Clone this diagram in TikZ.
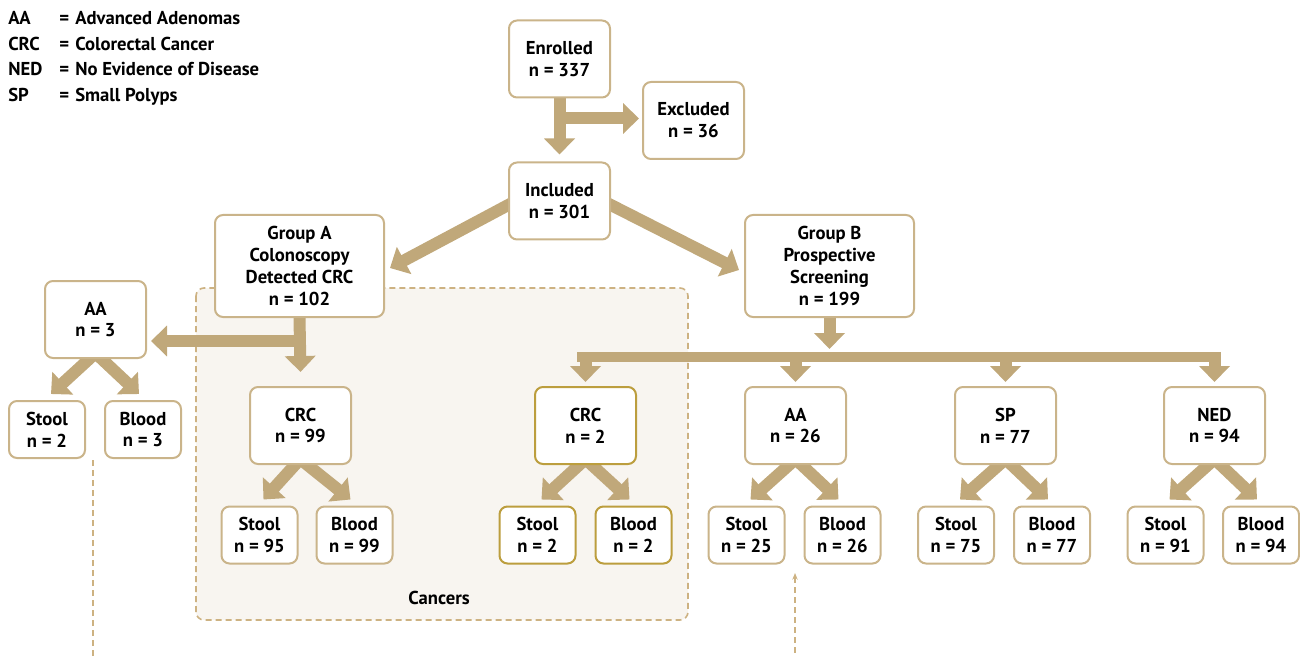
\documentclass[tikz,border=0pt]{standalone}
\usepackage{fontspec}
\setmainfont{PT Sans}
\usetikzlibrary{arrows.meta,calc}
\definecolor{arr}{RGB}{192,168,122}
\definecolor{bord}{RGB}{202,180,138}
\definecolor{gold}{RGB}{188,158,62}
\definecolor{boxbg}{RGB}{248,245,240}
\definecolor{dsh}{RGB}{205,178,130}
\pgfdeclarelayer{back}
\pgfdeclarelayer{bg}
\pgfsetlayers{back,bg,main}
\begin{document}
\begin{tikzpicture}[x=0.75pt,y=-0.75pt,
  font=\bfseries\fontsize{14}{16.4}\selectfont,
  box/.style={draw=bord, line width=1.5pt, rounded corners=6pt, fill=white, align=center, inner sep=0pt},
  big/.style={box, minimum width=75.75pt, minimum height=57.75pt},
  small/.style={box, minimum width=57pt, minimum height=42.75pt},
  grp/.style={box, minimum width=126.75pt, minimum height=76.5pt},
  goldb/.style={draw=gold},
  blk/.style={draw=arr, line width=9pt, -{Triangle[width=22.5pt,length=12pt]}},
  bar/.style={draw=arr, line width=7.5pt},
  dline/.style={draw=dsh, line width=1.2pt, dash pattern=on 4.5pt off 3pt},
  leg/.style={anchor=base west, inner sep=0pt}]
\useasboundingbox (0,0) rectangle (1300,656);

% legend
\node[leg] (l1a) at (8,25) {AA};
\node[leg] (l1b) at (59,25) {=};
\node[leg] (l1c) at (75,25) {Advanced Adenomas};
\node[leg] (l2a) at (8,51) {CRC};
\node[leg] (l2b) at (59,51) {=};
\node[leg] (l2c) at (75,51) {Colorectal Cancer};
\node[leg] (l3a) at (8,76) {NED};
\node[leg] (l3b) at (59,76) {=};
\node[leg] (l3c) at (75,76) {No Evidence of Disease};
\node[leg] (l4a) at (8,102) {SP};
\node[leg] (l4b) at (59,102) {=};
\node[leg] (l4c) at (75,102) {Small Polyps};

% main nodes
\node[big] (enr) at (559.5,59) {Enrolled\\n = 337};
\node[big] (exc) at (693.5,120.5) {Excluded\\n = 36};
\node[big] (inc) at (559.5,201) {Included\\n = 301};
\node[grp] (ga) at (299.5,266) {Group A\\Colonoscopy\\Detected CRC\\n = 102};
\node[grp] (gb) at (829.5,266) {Group B\\Prospective\\Screening\\n = 199};
\node[big] (aa1) at (95.5,319.5) {AA\\n = 3};
\node[small] (s1) at (47,429.5) {Stool\\n = 2};
\node[small] (b1) at (143,429.5) {Blood\\n = 3};
\node[big] (crc1) at (300.5,425.5) {CRC\\n = 99};
\node[small] (s2) at (259.5,535) {Stool\\n = 95};
\node[small] (b2) at (354.5,535) {Blood\\n = 99};
\node[big,goldb] (crc2) at (585.5,425.5) {CRC\\n = 2};
\node[small,goldb] (s3) at (537.5,535) {Stool\\n = 2};
\node[small,goldb] (b3) at (633.5,535) {Blood\\n = 2};
\node[big] (aa2) at (795.5,425.5) {AA\\n = 26};
\node[small] (s4) at (746.5,535) {Stool\\n = 25};
\node[small] (b4) at (842.5,535) {Blood\\n = 26};
\node[big] (sp) at (1005.5,425.5) {SP\\n = 77};
\node[small] (s5) at (956,535) {Stool\\n = 75};
\node[small] (b5) at (1052,535) {Blood\\n = 77};
\node[big] (ned) at (1214.5,425.5) {NED\\n = 94};
\node[small] (s6) at (1165.5,535) {Stool\\n = 91};
\node[small] (b6) at (1261,535) {Blood\\n = 94};

\begin{pgfonlayer}{back}
  \draw[dline, fill=boxbg, rounded corners=6pt] (196,288) rectangle (688,620);
\end{pgfonlayer}
\node[inner sep=0pt] (canc) at (439,598) {Cancers};

\begin{pgfonlayer}{bg}
  % enrolled
  \draw[blk] (enr.south) -- ($(inc.north)+(0,-7)$);
  \coordinate (eb) at ($(enr.south)+(0,20)$);
  \draw[blk] (eb) -- ($(eb -| exc.west)+(-3,0)$);
  % included
  \draw[blk] ($(inc.west)+(4,2)$) -- ($(ga.east)+(5,2)$);
  \draw[blk] ($(inc.east)+(-4,2)$) -- ($(gb.west)+(-5,4)$);
  % group A
  \draw[blk] (ga.south) -- ($(crc1.north)+(0,-14)$);
  \coordinate (gab) at ($(ga.south)+(6,23)$);
  \draw[blk] (gab) -- ($(gab -| aa1.east)+(4,0)$);
  % group B
  \draw[blk] (gb.south) -- ($(gb.south)+(0,31)$);
  \coordinate (barL) at (577,357);
  \coordinate (barR) at (1220.5,357);
  \draw[bar] (barL) -- (barR);
  \foreach \n in {crc2,aa2,sp,ned}{
    \draw[blk] (\n.north |- barL) -- ($(\n.north)+(0,-4)$);
  }
  % splits
  \foreach \p/\s/\b in {aa1/s1/b1,crc1/s2/b2,crc2/s3/b3,aa2/s4/b4,sp/s5/b5,ned/s6/b6}{
    \draw[blk] ($(\p.south)+(-2,-4)$) -- ($(\s.north)+(4,-6)$);
    \draw[blk] ($(\p.south)+(2,-4)$) -- ($(\b.north)+(-4,-6)$);
  }
\end{pgfonlayer}

% dashed leaders
\coordinate (d1t) at (93,460);
\coordinate (d1b) at (93,656);
\coordinate (d2t) at (795,573);
\coordinate (d2b) at (795,656);
\draw[dline] (d1t) -- (d1b);
\draw[dline, {Stealth[length=5pt,width=4pt]}-] (d2t) -- (d2b);
\end{tikzpicture}
\end{document}
